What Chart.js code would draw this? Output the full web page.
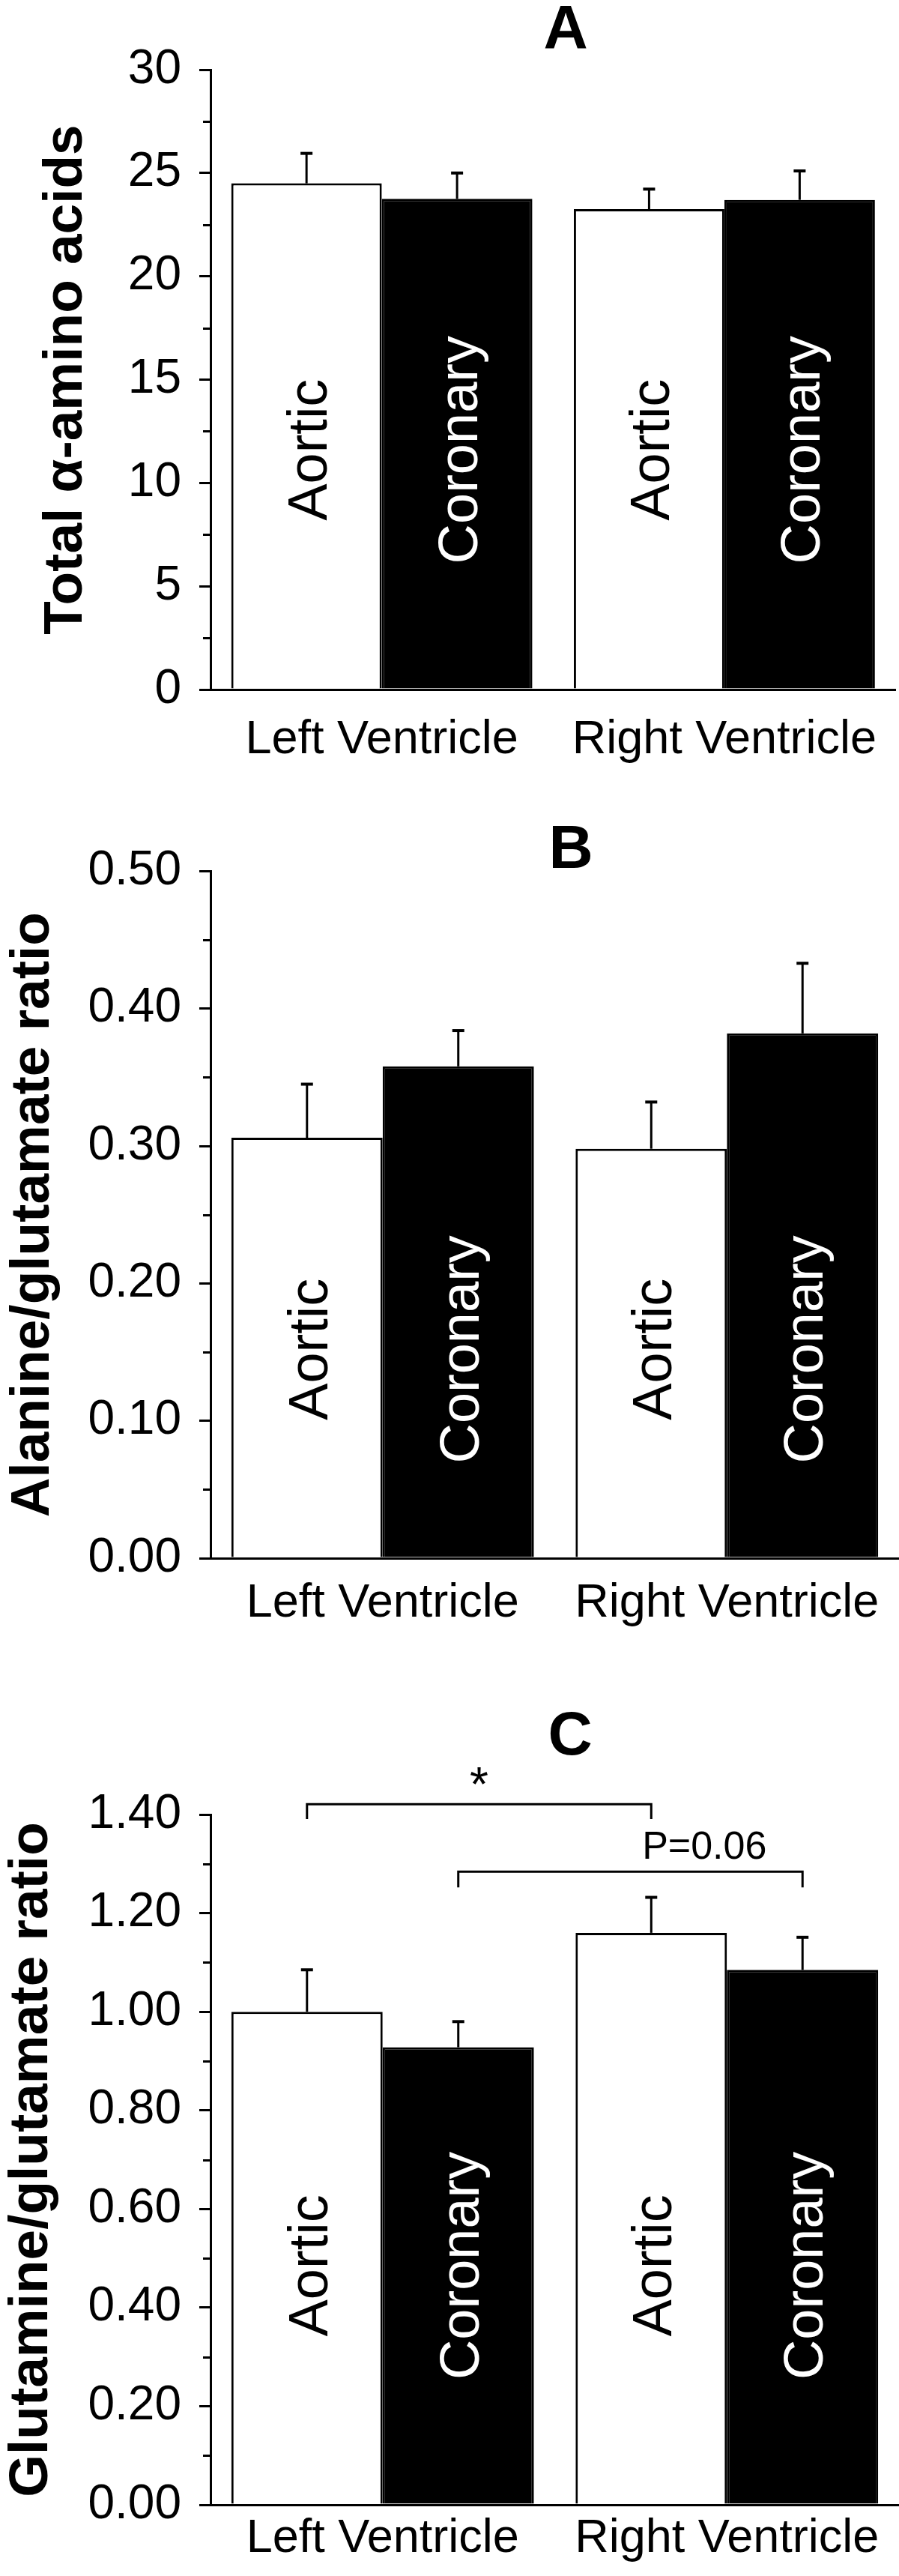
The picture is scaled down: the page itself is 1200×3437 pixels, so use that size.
<!DOCTYPE html>
<html>
<head>
<meta charset="utf-8">
<script src="https://cdn.jsdelivr.net/npm/chart.js@4.4.0/dist/chart.umd.min.js"></script>
<style>
  html, body { margin: 0; padding: 0; background: #fff; }
  #page { position: relative; width: 1200px; height: 3437px; }
  #page canvas { position: absolute; left: 0; }
</style>
</head>
<body>
<div id="page">
  <canvas id="chartA" width="1200" height="1100" style="top:0"></canvas>
  <canvas id="chartB" width="1200" height="1150" style="top:1100px"></canvas>
  <canvas id="chartC" width="1200" height="1187" style="top:2250px"></canvas>
</div>
<script>
// categories
const ventricles = ['Left Ventricle', 'Right Ventricle'];
const sites = ['Aortic', 'Coronary'];

// A: total alpha-amino acids
const aminoAortic = [24.5, 23.25];
const aminoAorticErr = [1.45, 0.97];
const aminoCoronary = [23.75, 23.7];
const aminoCoronaryErr = [1.25, 1.4];
const aminoTicks = [0, 5, 10, 15, 20, 25, 30];

// B: alanine/glutamate ratio
const alaAortic = [0.306, 0.298];
const alaAorticErr = [0.039, 0.034];
const alaCoronary = [0.358, 0.382];
const alaCoronaryErr = [0.026, 0.051];
const alaTicks = [0, 0.1, 0.2, 0.3, 0.4, 0.5];

// C: glutamine/glutamate ratio
const glnAortic = [1.0, 1.16];
const glnAorticErr = [0.085, 0.072];
const glnCoronary = [0.928, 1.085];
const glnCoronaryErr = [0.052, 0.066];
const glnTicks = [0, 0.2, 0.4, 0.6, 0.8, 1.0, 1.2, 1.4];
// significance brackets: [dataset, category] at each end, levels in axis units
const glnBrackets = [
    { label: '*', from: [0, 0], to: [0, 1], top: 1.421, foot: 1.391 },
    { label: 'P=0.06', from: [1, 0], to: [1, 1], top: 1.284, foot: 1.252 }
];

const FONT = '"Liberation Sans", Arial, sans-serif';
Chart.defaults.color = '#000';

// minor ticks, error bars, in-bar labels, titles, brackets
const panelDecor = {
    id: 'panelDecor',
    afterDatasetsDraw(chart, args, o) {
        const ctx = chart.ctx;
        const area = chart.chartArea;
        const yScale = chart.scales.y;
        ctx.save();
        ctx.strokeStyle = '#000';
        ctx.lineWidth = 3;
        o.ticks.slice(1).forEach((v, i) => {
            const py = Math.round(yScale.getPixelForValue((v + o.ticks[i]) / 2)) + 0.5;
            ctx.beginPath();
            ctx.moveTo(area.left - 10, py);
            ctx.lineTo(area.left, py);
            ctx.stroke();
        });
        chart.data.datasets.forEach((ds, di) => {
            chart.getDatasetMeta(di).data.forEach((bar, i) => {
                const y0 = yScale.getPixelForValue(ds.data[i]);
                const y1 = yScale.getPixelForValue(ds.data[i] + ds.errors[i]);
                ctx.lineWidth = 3;
                ctx.beginPath();
                ctx.moveTo(bar.x, y0);
                ctx.lineTo(bar.x, y1);
                ctx.stroke();
                ctx.lineWidth = 4;
                ctx.beginPath();
                ctx.moveTo(bar.x - 8, y1);
                ctx.lineTo(bar.x + 8, y1);
                ctx.stroke();

                ctx.save();
                ctx.translate(bar.x + 27, yScale.getPixelForValue(o.labelAt));
                ctx.rotate(-Math.PI / 2);
                ctx.fillStyle = ds.textColor;
                ctx.font = '74px ' + FONT;
                ctx.textAlign = 'center';
                ctx.fillText(ds.label, 0, 0);
                ctx.restore();
            });
        });
        ctx.restore();
    },
    afterDraw(chart, args, o) {
        const ctx = chart.ctx;
        const area = chart.chartArea;
        const yScale = chart.scales.y;
        ctx.save();
        ctx.fillStyle = '#000';
        ctx.strokeStyle = '#000';

        // y title
        ctx.save();
        ctx.translate(o.titleX, (area.top + area.bottom) / 2);
        ctx.rotate(-Math.PI / 2);
        ctx.font = 'bold 73px ' + FONT;
        ctx.textAlign = 'center';
        ctx.fillText(o.title, 0, 0);
        ctx.restore();

        // panel letter
        ctx.font = 'bold 82px ' + FONT;
        ctx.textAlign = 'center';
        ctx.fillText(o.letter, o.letterX, o.letterY);

        // brackets
        (o.brackets || []).forEach((b, k) => {
            const x1 = chart.getDatasetMeta(b.from[0]).data[b.from[1]].x;
            const x2 = chart.getDatasetMeta(b.to[0]).data[b.to[1]].x;
            const yt = yScale.getPixelForValue(b.top);
            const yf = yScale.getPixelForValue(b.foot);
            ctx.lineWidth = 3;
            ctx.beginPath();
            ctx.moveTo(x1, yf);
            ctx.lineTo(x1, yt);
            ctx.lineTo(x2, yt);
            ctx.lineTo(x2, yf);
            ctx.stroke();
            const t = o.bracketText[k];
            ctx.font = t.size + 'px ' + FONT;
            ctx.textAlign = 'center';
            ctx.fillText(b.label, x1 + t.pos * (x2 - x1), yt - t.lift);
        });
        ctx.restore();
    }
};

function buildPanel(id, p) {
    return new Chart(document.getElementById(id), {
        type: 'bar',
        data: {
            labels: ventricles,
            datasets: [
                {label: sites[0], data: p.aortic, errors: p.aorticErr, textColor: '#000',
                 backgroundColor: '#fff', borderColor: '#000', borderWidth: 3},
                {label: sites[1], data: p.coronary, errors: p.coronaryErr, textColor: '#fff',
                 backgroundColor: '#000', borderColor: '#000', borderWidth: 3}
            ]
        },
        options: {
            responsive: false,
            animation: false,
            devicePixelRatio: 1,
            layout: {padding: {top: p.padTop, left: 0, right: 0, bottom: 0}},
            datasets: {bar: {categoryPercentage: 0.879, barPercentage: 1}},
            plugins: {
                legend: {display: false},
                tooltip: {enabled: false},
                panelDecor: {
                    ticks: p.ticks, labelAt: p.labelAt, title: p.title, titleX: p.titleX,
                    letter: p.letter, letterX: p.letterX, letterY: p.letterY,
                    brackets: p.brackets,
                    bracketText: [{pos: 0.5, lift: 4, size: 64}, {pos: 0.715, lift: 17, size: 52}]
                }
            },
            scales: {
                x: {
                    z: 1,
                    grid: {display: false, drawTicks: false},
                    border: {color: '#000', width: 3},
                    ticks: {padding: p.xPad, color: '#000', font: {family: FONT, size: 63}},
                    afterFit: s => { s.height = p.xHeight; }
                },
                y: {
                    min: 0,
                    max: p.ticks[p.ticks.length - 1],
                    afterBuildTicks: s => { s.ticks = p.ticks.map(v => ({value: v})); },
                    grid: {drawOnChartArea: false, tickLength: 15, lineWidth: 3, color: '#000'},
                    border: {color: '#000', width: 3},
                    ticks: {padding: 24, color: '#000', font: {family: FONT, size: 64},
                            callback: v => Number(v).toFixed(p.decimals)},
                    afterFit: s => { s.width = 281; }
                }
            }
        },
        plugins: [panelDecor]
    });
}

buildPanel('chartA', {
    aortic: aminoAortic, aorticErr: aminoAorticErr,
    coronary: aminoCoronary, coronaryErr: aminoCoronaryErr,
    ticks: aminoTicks, decimals: 0, labelAt: 11.6,
    title: 'Total \u03B1-amino acids', titleX: 109,
    letter: 'A', letterX: 755, letterY: 64,
    padTop: 93, xHeight: 180, xPad: 30
});

buildPanel('chartB', {
    aortic: alaAortic, aorticErr: alaAorticErr,
    coronary: alaCoronary, coronaryErr: alaCoronaryErr,
    ticks: alaTicks, decimals: 2, labelAt: 0.152,
    title: 'Alanine/glutamate ratio', titleX: 65,
    letter: 'B', letterX: 762, letterY: 58,
    padTop: 57, xHeight: 171, xPad: 23
});

buildPanel('chartC', {
    aortic: glnAortic, aorticErr: glnAorticErr,
    coronary: glnCoronary, coronaryErr: glnCoronaryErr,
    ticks: glnTicks, decimals: 2, labelAt: 0.485,
    title: 'Glutamine/glutamate ratio', titleX: 63,
    letter: 'C', letterX: 761, letterY: 91,
    padTop: 171, xHeight: 95, xPad: 8,
    brackets: glnBrackets
});
</script>
</body>
</html>
